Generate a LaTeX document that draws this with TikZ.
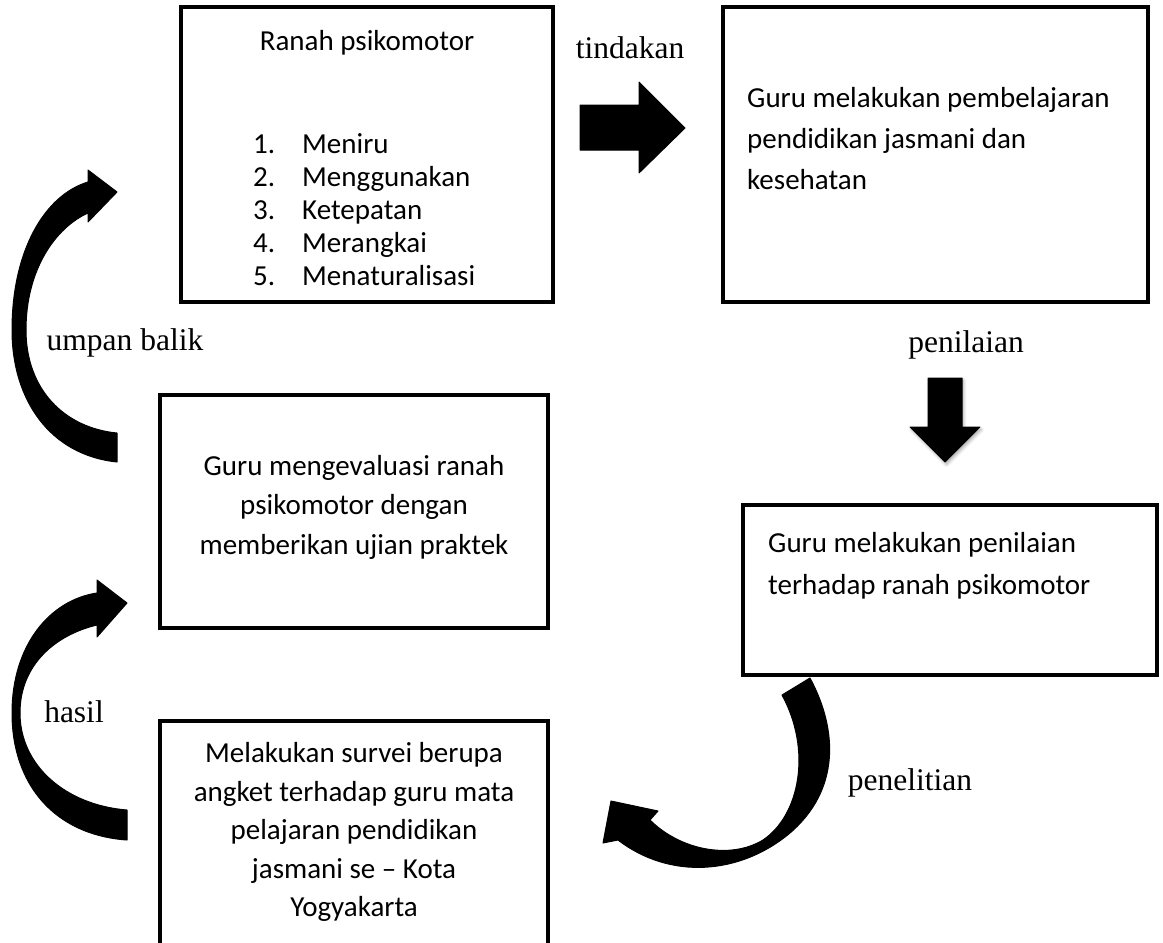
\documentclass[tikz,border=0pt]{standalone}
\usepackage{fontspec}
\usetikzlibrary{shadows.blur}
\newfontfamily\boxfont{Carlito}
\newfontfamily\lblfont{Liberation Serif}
\begin{document}
\begin{tikzpicture}[x=1pt,y=-1pt,
 box/.style={draw,line width=4pt,inner sep=0pt},
 boxtext/.style={inner sep=0pt,font=\boxfont\fontsize{29}{39}\selectfont},
 lbl/.style={inner sep=0pt,font=\lblfont\fontsize{31.5}{36}\selectfont},
 blockarrow/.style={fill=black,draw=black,line width=1pt,line join=round}]
 \useasboundingbox (0,0) rectangle (1163,943);
 \node[box,minimum width=372pt,minimum height=295pt] (ranah) at (367,154.5) {};
 \node[boxtext] (ranahjudul) at (367,43) {Ranah psikomotor};
 \foreach \t [count=\k] in {Meniru,Menggunakan,Ketepatan,Merangkai,Menaturalisasi} {
  \node[boxtext,anchor=base west] (no\k) at (253,120.5+33*\k) {\k.};
  \node[boxtext,anchor=base west] (ranah\k) at (302,120.5+33*\k) {\t};
 }
 \node[box,minimum width=425pt,minimum height=295pt] (belajar) at (935.5,154.5) {};
 \node[boxtext,align=left,anchor=west,font=\boxfont\fontsize{29}{41}\selectfont] (belajartxt) at (747,139)
  {Guru melakukan pembelajaran\\pendidikan jasmani dan\\kesehatan};
 \node[box,minimum width=388pt,minimum height=233pt] (evaluasi) at (354,511.5) {};
 \node[boxtext,align=center,font=\boxfont\fontsize{29}{39.5}\selectfont] (evaluasitxt) at (354,507)
  {Guru mengevaluasi ranah\\psikomotor dengan\\memberikan ujian praktek};
 \node[box,minimum width=414pt,minimum height=170pt] (penilaian) at (950,590) {};
 \node[boxtext,align=left,anchor=west,font=\boxfont\fontsize{29}{42}\selectfont] (penilaiantxt) at (768,566)
  {Guru melakukan penilaian\\terhadap ranah psikomotor};
 \node[box,minimum width=388pt,minimum height=240pt] (survei) at (354,841) {};
 \node[boxtext,align=center,font=\boxfont\fontsize{29}{38.5}\selectfont] (surveitxt) at (354,832)
  {Melakukan survei berupa\\angket terhadap guru mata\\pelajaran pendidikan\\jasmani se – Kota\\Yogyakarta};
 \node[lbl] (tindakan) at (630,48) {tindakan};
 \node[lbl] (umpanbalik) at (125,343) {umpan balik};
 \node[lbl] (lblpenilaian) at (966,345) {penilaian};
 \node[lbl] (hasil) at (74,712) {hasil};
 \node[lbl] (penelitian) at (910,783) {penelitian};
 \fill[blockarrow] (580,105) -- (639,105) -- (639,82) -- (685,128) -- (639,173) -- (639,150) -- (580,150) -- cycle;
 \fill[blockarrow,blur shadow={shadow xshift=1.5pt,shadow yshift=-2.5pt,shadow blur radius=3pt,shadow opacity=35}]
  (928,378) -- (962,378) -- (962,427) -- (980,427) -- (945,462) -- (910,427) -- (928,427) -- cycle;
 \fill[blockarrow] (117,433) -- (117,462) .. controls (50,455) and (12,400) .. (12,330)
  .. controls (12,250) and (45,195) .. (88,182) -- (88,170) -- (117,192) -- (88,222) -- (88,213)
  .. controls (55,228) and (26,270) .. (26,330) .. controls (26,390) and (65,428) .. (117,433) -- cycle;
 \fill[blockarrow] (127,810) -- (127,840) .. controls (55,835) and (12,785) .. (12,713)
  .. controls (12,645) and (50,600) .. (97,593) -- (97,580) -- (127,603) -- (97,637) -- (97,625)
  .. controls (55,635) and (20,665) .. (20,713) .. controls (20,765) and (65,805) .. (127,810) -- cycle;
 \fill[blockarrow] (782,695) -- (810,678) .. controls (838,730) and (840,790) .. (790,833)
  .. controls (740,875) and (670,880) .. (618,840) -- (603,843) -- (611,801) -- (658,811) -- (650,820)
  .. controls (680,850) and (730,860) .. (763,840) .. controls (800,815) and (812,750) .. (782,695) -- cycle;
\end{tikzpicture}
\end{document}
